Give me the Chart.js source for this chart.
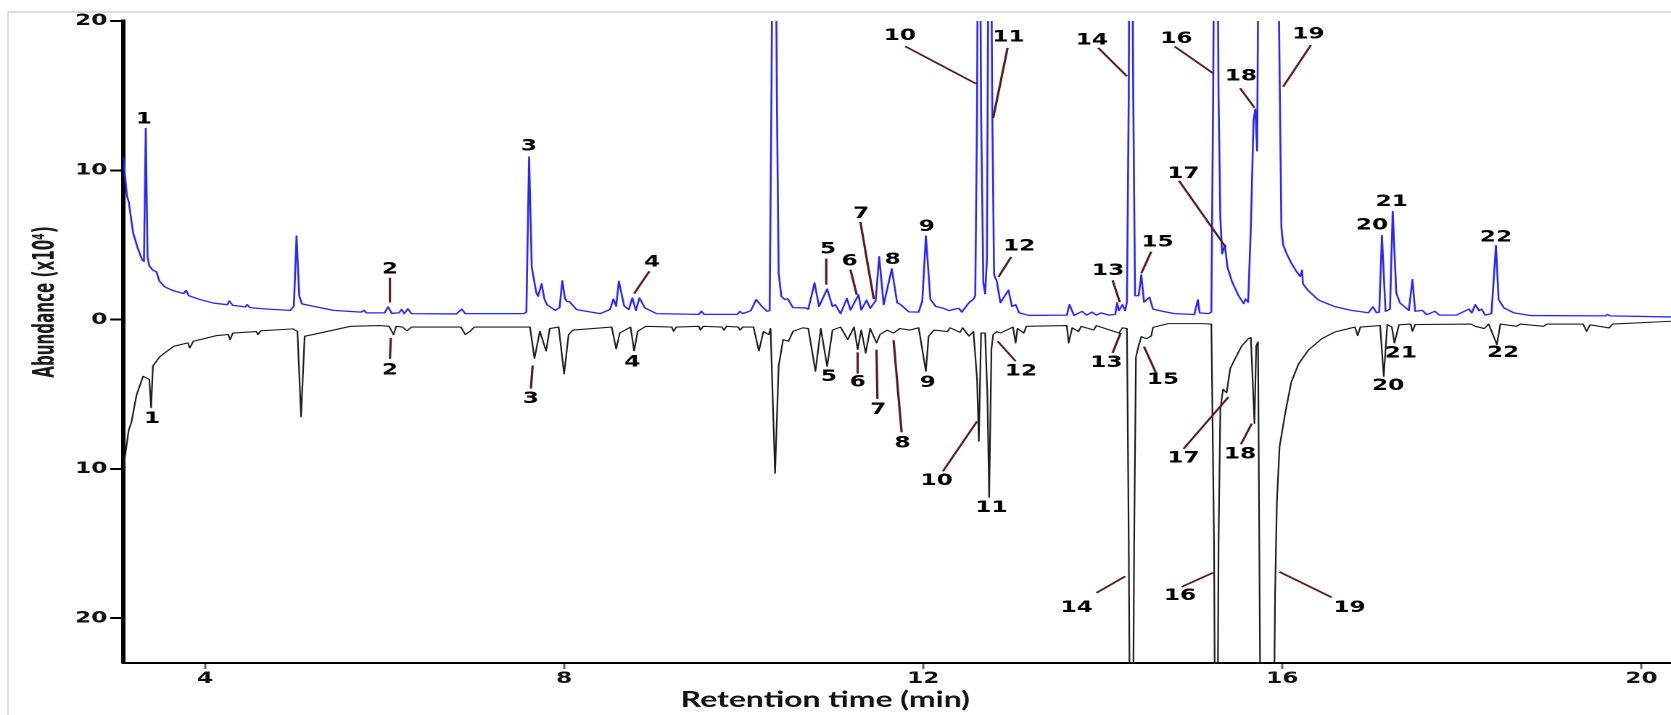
<!DOCTYPE html>
<html>
<head>
<meta charset="utf-8">
<title>Chromatogram</title>
<script src="https://cdn.jsdelivr.net/npm/chart.js@4.4.1/dist/chart.umd.min.js"></script>
<style>
  html, body { margin: 0; padding: 0; background: #fff; }
  body { width: 1671px; height: 715px; position: relative; overflow: hidden; }
  #frame { position: absolute; left: 7px; top: 11px; width: 1700px; height: 800px;
           border-left: 2px solid #dcdcdc; border-top: 2px solid #dcdcdc; }
  /* the figure is drawn narrow and stretched sideways, like the exported original */
  #stretch { position: absolute; left: 0; top: 0; width: 1152px; height: 715px;
             transform: scaleX(1.4505); transform-origin: 0 0; }
</style>
</head>
<body>
<div id="frame"></div>
<div id="stretch"><canvas id="tic-chart" width="1152" height="715"></canvas></div>
<script>
// retention time (min), abundance (x10^4) of the upper (blue) run
const blueTrace = [
  [3.09, 10.9], [3.11, 9.6], [3.13, 8.3], [3.15, 7.9], [3.20, 5.8], [3.25, 4.8], [3.30, 4.0], [3.32, 3.9],
  [3.34, 12.8], [3.36, 4.2], [3.38, 3.6], [3.42, 3.3], [3.46, 3.2], [3.49, 2.6], [3.55, 2.2], [3.64, 1.95],
  [3.76, 1.75], [3.79, 1.95], [3.82, 1.6], [3.94, 1.35], [4.10, 1.1], [4.25, 1.0], [4.27, 1.25], [4.31, 0.95],
  [4.45, 0.85], [4.47, 1.0], [4.50, 0.8], [4.70, 0.7], [4.95, 0.62], [4.99, 0.9], [5.02, 5.6], [5.05, 1.6],
  [5.08, 1.05], [5.20, 0.9], [5.43, 0.62], [5.74, 0.5], [5.77, 0.62], [5.80, 0.45], [6.00, 0.45], [6.04, 0.85],
  [6.08, 0.42], [6.16, 0.45], [6.19, 0.68], [6.22, 0.4], [6.26, 0.72], [6.30, 0.4], [6.80, 0.38], [6.86, 0.7],
  [6.90, 0.4], [7.55, 0.4], [7.58, 0.5], [7.61, 10.9], [7.64, 3.5], [7.69, 1.8], [7.71, 1.56], [7.75, 2.4],
  [7.78, 1.4], [7.81, 1.0], [7.90, 0.62], [7.95, 0.8], [7.98, 2.6], [8.01, 1.4], [8.03, 1.23], [8.06, 1.2],
  [8.14, 0.67], [8.40, 0.4], [8.51, 0.67], [8.55, 1.38], [8.58, 0.9], [8.61, 2.57], [8.67, 0.9], [8.72, 0.67],
  [8.76, 1.45], [8.80, 0.62], [8.84, 1.45], [8.90, 0.78], [9.03, 0.4], [9.50, 0.35], [9.53, 0.56], [9.56, 0.35],
  [9.93, 0.35], [9.96, 0.55], [9.99, 0.4], [10.08, 0.6], [10.14, 1.34], [10.20, 0.9], [10.26, 0.56], [10.29, 0.6],
  [10.31, 15], [10.34, 45], [10.37, 15], [10.39, 3.1], [10.42, 1.56], [10.46, 1.34], [10.49, 1.4], [10.55, 0.8],
  [10.69, 0.78], [10.72, 0.7], [10.79, 2.46], [10.84, 0.88], [10.93, 2.05], [10.99, 0.88], [11.02, 1.0], [11.08, 0.4],
  [11.15, 1.42], [11.19, 0.64], [11.28, 1.66], [11.31, 0.64], [11.37, 1.3], [11.41, 0.76], [11.47, 1.25], [11.51, 4.22],
  [11.56, 1.0], [11.65, 3.4], [11.71, 1.13], [11.75, 1.0], [11.84, 0.52], [11.95, 0.5], [11.99, 1.25], [12.03, 5.6],
  [12.08, 1.37], [12.14, 0.88], [12.23, 0.75], [12.29, 0.6], [12.35, 0.7], [12.40, 0.75], [12.43, 0.5], [12.51, 1.13],
  [12.56, 1.37], [12.58, 1.6], [12.60, 14], [12.62, 42], [12.645, 14], [12.67, 2.5], [12.69, 1.73], [12.71, 4],
  [12.74, 42], [12.77, 13.5], [12.79, 3.0], [12.82, 2.58], [12.86, 1.13], [12.95, 1.97], [12.99, 0.88], [13.03, 1.0],
  [13.07, 0.45], [13.18, 0.28], [13.60, 0.3], [13.63, 1.0], [13.68, 0.28], [13.77, 0.55], [13.82, 0.3], [13.88, 0.5],
  [13.93, 0.3], [13.98, 0.45], [14.07, 0.3], [14.14, 0.35], [14.16, 1.13], [14.18, 0.6], [14.22, 1.0], [14.25, 0.6],
  [14.27, 1.2], [14.29, 15], [14.31, 45], [14.34, 15], [14.36, 1.6], [14.40, 1.6], [14.43, 3.0], [14.46, 1.17],
  [14.52, 1.5], [14.56, 0.7], [14.67, 0.55], [14.80, 0.4], [15.02, 0.34], [15.06, 1.32], [15.08, 0.45], [15.18, 0.4],
  [15.21, 0.5], [15.23, 15], [15.26, 45], [15.29, 15], [15.31, 6.85], [15.33, 4.4], [15.36, 5.0], [15.39, 3.5],
  [15.44, 2.55], [15.51, 1.63], [15.57, 1.07], [15.59, 1.38], [15.62, 1.17], [15.65, 6.2], [15.68, 13.4], [15.70, 14.1],
  [15.72, 11.3], [15.74, 30], [15.80, 60], [15.90, 60], [15.96, 22], [15.99, 6.2], [16.01, 5.0], [16.05, 4.4],
  [16.10, 3.8], [16.16, 3.2], [16.20, 2.9], [16.22, 3.3], [16.23, 2.4], [16.29, 1.94], [16.40, 1.32], [16.59, 0.86],
  [16.77, 0.62], [16.96, 0.46], [17.01, 0.86], [17.05, 0.46], [17.08, 0.5], [17.11, 5.63], [17.15, 0.56], [17.20, 0.7],
  [17.23, 7.25], [17.27, 1.79], [17.31, 1.12], [17.41, 0.62], [17.45, 2.68], [17.48, 0.56], [17.56, 0.62], [17.61, 0.33],
  [17.70, 0.56], [17.75, 0.3], [17.94, 0.3], [18.08, 0.71], [18.11, 0.45], [18.15, 1.0], [18.19, 0.6], [18.22, 0.7],
  [18.26, 0.3], [18.33, 0.4], [18.38, 4.96], [18.41, 1.34], [18.47, 0.78], [18.58, 0.45], [18.77, 0.27], [19.60, 0.25],
  [19.62, 0.35], [19.65, 0.25], [20.33, 0.18]
];

// lower (black) run, abundance stored positive and mirrored below zero
const blackTrace = [
  [3.09, 10.0], [3.15, 7.4], [3.18, 6.9], [3.22, 5.6], [3.24, 5.0], [3.31, 3.8], [3.38, 4.0], [3.40, 5.9],
  [3.42, 3.1], [3.50, 2.46], [3.65, 1.79], [3.81, 1.56], [3.83, 1.9], [3.87, 1.45], [4.13, 1.07], [4.26, 1.0],
  [4.28, 1.34], [4.31, 0.9], [4.57, 0.8], [4.59, 1.0], [4.62, 0.75], [4.98, 0.62], [5.03, 0.8], [5.07, 6.5],
  [5.11, 1.12], [5.28, 0.9], [5.62, 0.45], [5.95, 0.4], [6.05, 0.45], [6.10, 1.0], [6.13, 0.45], [6.20, 0.5],
  [6.25, 0.75], [6.30, 0.5], [6.85, 0.5], [6.90, 1.0], [6.95, 0.8], [7.00, 0.5], [7.62, 0.5], [7.67, 2.6],
  [7.73, 0.78], [7.80, 2.1], [7.84, 0.6], [7.94, 0.5], [8.00, 3.64], [8.05, 1.0], [8.10, 0.7], [8.53, 0.5],
  [8.58, 1.96], [8.62, 0.9], [8.74, 0.5], [8.78, 2.08], [8.82, 0.78], [8.91, 0.45], [9.20, 0.5], [9.22, 0.78],
  [9.25, 0.5], [9.50, 0.45], [9.52, 0.7], [9.55, 0.45], [9.76, 0.5], [9.78, 0.7], [9.81, 0.45], [9.94, 0.5],
  [9.96, 0.7], [9.99, 0.5], [10.11, 0.5], [10.17, 2.1], [10.22, 0.8], [10.28, 1.0], [10.30, 0.6], [10.35, 10.3],
  [10.39, 3.1], [10.44, 1.34], [10.50, 1.45], [10.55, 0.78], [10.66, 0.55], [10.72, 0.6], [10.80, 3.46], [10.86, 0.6],
  [10.93, 3.13], [10.99, 0.7], [11.08, 0.5], [11.16, 1.34], [11.23, 0.5], [11.27, 2.0], [11.31, 0.7], [11.36, 2.23],
  [11.41, 0.6], [11.48, 1.56], [11.52, 0.99], [11.60, 0.7], [11.67, 0.9], [11.74, 0.6], [11.85, 0.7], [11.95, 0.55],
  [12.03, 3.46], [12.06, 1.12], [12.12, 0.7], [12.27, 0.8], [12.30, 0.55], [12.41, 0.85], [12.44, 0.55], [12.51, 1.1],
  [12.56, 0.8], [12.60, 4.0], [12.62, 8.15], [12.645, 0.9], [12.69, 0.9], [12.715, 5.0], [12.735, 11.9], [12.76, 2.0],
  [12.78, 1.0], [12.82, 0.8], [12.86, 0.9], [13.00, 0.5], [13.03, 1.56], [13.05, 0.6], [13.12, 0.9], [13.15, 0.45],
  [13.60, 0.4], [13.62, 1.56], [13.66, 0.55], [13.73, 0.8], [13.76, 0.45], [13.90, 0.7], [13.93, 0.4], [14.18, 0.9],
  [14.22, 0.55], [14.27, 0.6], [14.29, 15], [14.32, 45], [14.35, 15], [14.37, 2.5], [14.40, 1.74], [14.43, 1.14],
  [14.45, 1.2], [14.49, 1.27], [14.54, 1.1], [14.56, 0.52], [14.73, 0.27], [15.10, 0.27], [15.21, 0.3], [15.24, 15],
  [15.265, 45], [15.29, 15], [15.31, 6.0], [15.34, 4.67], [15.38, 4.9], [15.42, 3.28], [15.47, 2.67], [15.55, 1.75],
  [15.62, 1.29], [15.65, 1.2], [15.69, 6.96], [15.71, 1.75], [15.73, 1.5], [15.76, 30], [15.82, 60], [15.88, 45],
  [15.92, 18.4], [15.94, 12.2], [15.97, 8.5], [16.03, 6.36], [16.10, 4.2], [16.18, 2.98], [16.29, 2.05], [16.44, 1.28],
  [16.59, 0.82], [16.81, 0.5], [16.84, 1.07], [16.87, 0.5], [17.09, 0.4], [17.13, 3.8], [17.17, 0.33], [17.22, 0.5],
  [17.25, 1.56], [17.30, 0.35], [17.43, 0.3], [17.45, 0.78], [17.48, 0.33], [18.10, 0.3], [18.15, 0.45], [18.25, 0.6],
  [18.30, 0.3], [18.39, 1.67], [18.43, 0.3], [18.61, 0.45], [18.65, 0.3], [18.91, 0.45], [18.95, 0.3], [19.35, 0.3],
  [19.39, 0.78], [19.43, 0.35], [19.64, 0.56], [19.68, 0.3], [20.33, 0.11]
];

const xTicks = [4, 8, 12, 16, 20];
const yTicks = [-20, -10, 0, 10, 20];

// peak numbers: [text, time, abundance, optional leader [t1, a1, t2, a2]]
const blueNotes = [
  ['1', 3.32, 13.4], ['2', 6.06, 3.35, [6.06, 2.8, 6.06, 1.15]], ['3', 7.61, 11.6],
  ['4', 8.98, 3.84, [8.95, 3.24, 8.78, 1.74]], ['5', 10.94, 4.7, [10.92, 4.08, 10.92, 2.34]],
  ['6', 11.18, 3.9, [11.19, 3.35, 11.26, 1.66]], ['7', 11.31, 7.1, [11.3, 6.55, 11.45, 1.37]],
  ['8', 11.66, 4.0], ['9', 12.04, 6.2], ['10', 11.74, 19.0, [11.8, 18.3, 12.59, 15.8]],
  ['11', 12.95, 18.9, [12.94, 18.2, 12.78, 13.5]], ['12', 13.07, 4.9, [12.98, 4.2, 12.84, 2.87]],
  ['13', 14.06, 3.25, [14.11, 2.63, 14.19, 1.17]], ['14', 13.88, 18.7, [13.95, 18.2, 14.27, 16.3]],
  ['15', 14.61, 5.16, [14.54, 4.55, 14.43, 3.1]], ['16', 14.82, 18.8, [14.8, 18.3, 15.23, 16.5]],
  ['17', 14.9, 9.77, [14.85, 9.3, 15.37, 4.85]], ['18', 15.54, 16.3, [15.53, 15.5, 15.69, 14.2]],
  ['19', 16.29, 19.1, [16.32, 18.4, 16.01, 15.6]], ['20', 17.0, 6.3], ['21', 17.22, 7.9], ['22', 18.38, 5.5]
];
const blackNotes = [
  ['1', 3.41, 6.65], ['2', 6.06, 3.4, [6.07, 1.22, 6.06, 2.63]], ['3', 7.63, 5.3, [7.65, 3.08, 7.63, 4.62]],
  ['4', 8.76, 2.86], ['5', 10.95, 3.84], ['6', 11.27, 4.2, [11.27, 2.19, 11.27, 3.62]],
  ['7', 11.5, 6.03, [11.48, 2.01, 11.49, 5.31]], ['8', 11.77, 8.3, [11.67, 1.38, 11.76, 7.55]],
  ['9', 12.05, 4.24], ['10', 12.15, 10.8, [12.22, 10.16, 12.6, 6.81]], ['11', 12.76, 12.6],
  ['12', 13.09, 3.46, [13.03, 2.79, 12.83, 1.45]], ['13', 14.04, 2.9, [14.11, 2.23, 14.2, 0.89]],
  ['14', 13.71, 19.3, [13.93, 18.3, 14.25, 17.2]], ['15', 14.67, 4.05, [14.59, 3.53, 14.46, 1.81]],
  ['16', 14.86, 18.5, [14.88, 17.9, 15.23, 16.95]], ['17', 14.9, 9.28, [14.9, 8.66, 15.4, 5.19]],
  ['18', 15.53, 9.03, [15.54, 8.35, 15.66, 6.97]], ['19', 16.75, 19.3, [16.55, 18.6, 15.97, 16.9]],
  ['20', 17.18, 4.45], ['21', 17.32, 2.25], ['22', 18.46, 2.23]
];

const blueLine = 'rgb(38, 38, 255)';
const blackLine = '#1c1c1c';
const leaderColor = '#5a1c1c';
const labelFont = 'bold 16px "DejaVu Sans"';

// peak numbers, leader lines and axis titles
const peakNotes = {
  id: 'peakNotes',
  afterDatasetsDraw(chart) {
    const { ctx, scales: { x, y } } = chart;
    ctx.save();
    ctx.font = labelFont;
    ctx.fillStyle = '#000';
    ctx.textAlign = 'center';
    ctx.textBaseline = 'middle';
    ctx.strokeStyle = leaderColor;
    ctx.lineWidth = 1.6;
    const put = (notes, sign) => {
      notes.forEach(([txt, t, a, lead]) => {
        if (lead) {
          ctx.beginPath();
          ctx.moveTo(x.getPixelForValue(lead[0]), y.getPixelForValue(sign * lead[1]));
          ctx.lineTo(x.getPixelForValue(lead[2]), y.getPixelForValue(sign * lead[3]));
          ctx.stroke();
        }
        ctx.fillText(txt, x.getPixelForValue(t), y.getPixelForValue(sign * a));
      });
    };
    put(blueNotes, 1);
    put(blackNotes, -1);

    ctx.font = 'bold 22px Lato';
    ctx.fillStyle = '#111';
    ctx.fillText('Retention time (min)', 569, 700);

    // y title: rotated, squeezed along its length
    ctx.translate(32, 302);
    ctx.rotate(-Math.PI / 2);
    ctx.scale(0.84, 1);
    ctx.font = 'bold 20px "Liberation Sans Narrow", "DejaVu Sans Condensed", sans-serif';
    ctx.fillStyle = '#1a1a1a';
    ctx.fillText('Abundance (x10\u2074)', 0, 0);
    ctx.restore();
  }
};

const tickFont = { family: 'DejaVu Sans', weight: 'bold', size: 16 };

new Chart(document.getElementById('tic-chart'), {
  type: 'line',
  data: {
    datasets: [{
      data: blueTrace.map(([t, a]) => ({ x: t, y: a })),
      borderColor: blueLine,
      borderWidth: 1.3
    }, {
      data: blackTrace.map(([t, a]) => ({ x: t, y: -a })),
      borderColor: blackLine,
      borderWidth: 1.1
    }]
  },
  options: {
    responsive: false,
    devicePixelRatio: 2,
    animation: false,
    layout: { padding: { top: 21, right: 0, bottom: 0, left: 0 } },
    elements: {
      point: { radius: 0 },
      line: { tension: 0, borderJoinStyle: 'round', fill: false }
    },
    plugins: { legend: { display: false }, tooltip: { enabled: false } },
    scales: {
      x: {
        type: 'linear',
        min: 3.09,
        max: 20.33,
        afterBuildTicks: s => { s.ticks = xTicks.map(v => ({ value: v })); },
        afterFit: s => { s.height = 52; },
        grid: { drawOnChartArea: false, tickLength: 6, tickWidth: 1.5, tickColor: '#666' },
        border: { display: true, color: '#000', width: 2 },
        ticks: { font: tickFont, color: '#111', padding: 0, maxRotation: 0 }
      },
      y: {
        min: -23,
        max: 20,
        afterBuildTicks: s => { s.ticks = yTicks.map(v => ({ value: v })); },
        afterFit: s => { s.width = 85; },
        grid: { drawOnChartArea: false, tickLength: 9, tickWidth: 2, tickColor: '#000' },
        border: { display: true, color: '#000', width: 3 },
        ticks: { font: tickFont, color: '#111', padding: 2, callback: v => Math.abs(v) }
      }
    }
  },
  plugins: [peakNotes]
});
</script>
</body>
</html>
